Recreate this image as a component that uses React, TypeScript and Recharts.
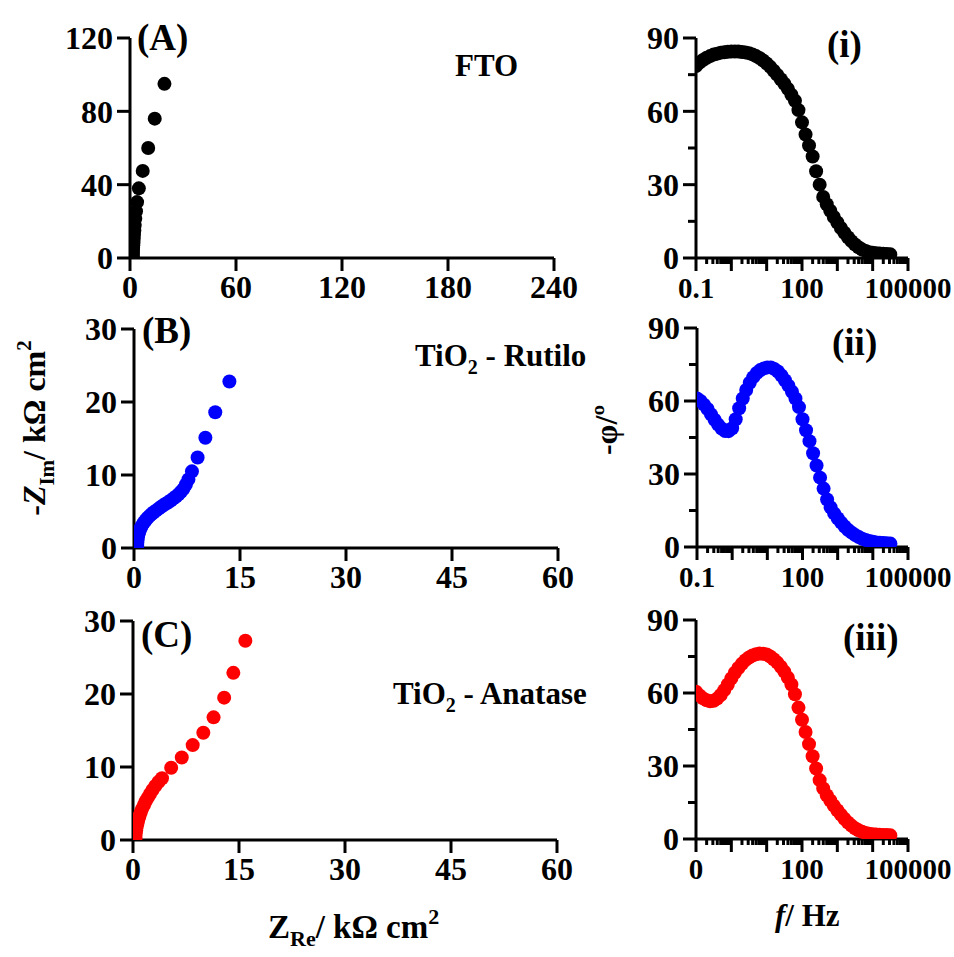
import React from 'react';
import { ScatterChart, Scatter, XAxis, YAxis } from 'recharts';

const FONT = "'Liberation Serif', 'Times New Roman', serif";

// ---- Nyquist data (kΩ cm²) ----
const ftoZre = [19.5, 14.0, 10.3, 7.2, 5.0, 4.0, 3.4, 3.0, 2.7, 2.45, 2.25, 2.1, 1.95, 1.85, 1.75, 1.65, 1.58, 1.52, 1.47, 1.43, 1.4, 1.37, 1.35, 1.33];
const ftoZim = [95, 76, 60, 47.5, 38, 30.5, 25.5, 21.5, 18, 15, 12.5, 10.3, 8.5, 7, 5.7, 4.6, 3.6, 2.8, 2.1, 1.5, 1.0, 0.6, 0.3, 0.1];

const rutiloZre = [13.5, 11.5, 10.1, 9.0, 8.2, 7.7, 7.35, 7.0, 6.65, 6.3, 5.95, 5.6, 5.25, 4.9, 4.55, 4.2, 3.85, 3.5, 3.15, 2.8, 2.5, 2.2, 1.9, 1.65, 1.4, 1.2, 1.0, 0.85, 0.72, 0.62, 0.55, 0.5, 0.47, 0.45, 0.45];
const rutiloZim = [22.8, 18.6, 15.1, 12.4, 10.5, 9.4, 8.7, 8.1, 7.7, 7.35, 7.05, 6.8, 6.55, 6.3, 6.1, 5.9, 5.65, 5.4, 5.15, 4.9, 4.65, 4.4, 4.1, 3.8, 3.5, 3.2, 2.85, 2.5, 2.15, 1.8, 1.45, 1.1, 0.75, 0.4, 0.1];

const anataseZre = [15.9, 14.2, 12.9, 11.4, 9.95, 8.45, 6.9, 5.4, 4.1, 3.6, 3.15, 2.75, 2.4, 2.1, 1.8, 1.55, 1.3, 1.1, 0.92, 0.77, 0.64, 0.53, 0.45, 0.38, 0.34, 0.33];
const anataseZim = [27.3, 22.9, 19.5, 16.8, 14.7, 13.0, 11.3, 9.9, 8.45, 7.95, 7.4, 6.85, 6.3, 5.8, 5.3, 4.8, 4.3, 3.8, 3.3, 2.8, 2.3, 1.8, 1.3, 0.85, 0.4, 0.1];

// ---- Bode phase data (10 points per decade, 0.1 Hz – 31.6 kHz) ----
const freqHz = [
  0.1, 0.126, 0.158, 0.2, 0.251, 0.316, 0.398, 0.501, 0.631, 0.794,
  1, 1.26, 1.58, 2, 2.51, 3.16, 3.98, 5.01, 6.31, 7.94,
  10, 12.6, 15.8, 20, 25.1, 31.6, 39.8, 50.1, 63.1, 79.4,
  100, 126, 158, 200, 251, 316, 398, 501, 631, 794,
  1000, 1260, 1580, 2000, 2510, 3160, 3980, 5010, 6310, 7940,
  10000, 12600, 15800, 20000, 25100, 31600,
];
const phaseFTO = [
  78.5, 80, 81, 81.9, 82.6, 83.2, 83.6, 84.0, 84.2, 84.4,
  84.5, 84.5, 84.5, 84.3, 84.1, 83.8, 83.3, 82.6, 81.8, 80.8,
  79.6, 78.2, 76.6, 74.9, 73.1, 71.3, 69.2, 66.8, 64.3, 60.5,
  55.5, 50.5, 46, 41.5, 35.5, 30, 25, 22, 19.3, 16.8,
  14.5, 12.3, 10.3, 8.5, 6.9, 5.5, 4.4, 3.5, 2.9, 2.4,
  2.1, 1.9, 1.8, 1.7, 1.6, 1.5,
];
const phaseRutilo = [
  61, 60, 58.5, 56.7, 54.5, 52.3, 50.3, 48.7, 47.7, 47.6,
  48.8, 52.5, 57, 61, 64.5, 67.5, 69.8, 71.5, 72.7, 73.4,
  73.8, 73.8, 73.2, 72.1, 70.5, 68.5, 66.3, 63.8, 61, 57.5,
  52.5, 48, 43.5, 38.5, 33.5, 28.5, 24, 19.5, 16.3, 13.8,
  11.8, 10, 8.4, 7, 5.9, 4.9, 4.1, 3.4, 2.9, 2.5,
  2.2, 1.9, 1.7, 1.6, 1.5, 1.4,
];
const phaseAnatase = [
  60.5, 59, 57.8, 57, 56.6, 56.8, 57.7, 59.2, 61.2, 63.5,
  66, 68.3, 70.3, 72, 73.5, 74.6, 75.4, 75.9, 76.2, 76.1,
  75.8, 75, 73.9, 72.5, 70.8, 68.8, 66.3, 63.5, 59.5, 54,
  49, 44, 39, 34, 29, 24.2, 20.8, 18, 15.8, 13.7,
  11.8, 10, 8.3, 6.8, 5.5, 4.4, 3.6, 3.0, 2.5, 2.2,
  2.0, 1.8, 1.7, 1.6, 1.6, 1.5,
];

// ---- Axis ticks ----
const ticksXA = [0, 60, 120, 180, 240];
const ticksYA = [0, 40, 80, 120];
const ticksXBC = [0, 15, 30, 45, 60];
const ticksYBC = [0, 10, 20, 30];
const phaseTicks = [0, 15, 30, 45, 60, 75, 90];
const phaseLabels = [0, 30, 60, 90];
const freqDecades = [0.1, 1, 10, 100, 1000, 10000, 100000];
const freqLabels = [0.1, 100, 100000];

const freqTicks: number[] = [];
freqDecades.forEach((d, i) => {
  freqTicks.push(d);
  if (i < freqDecades.length - 1) for (let m = 2; m <= 9; m++) freqTicks.push(+(d * m).toPrecision(6));
});

const zip = (xs: number[], ys: number[]) => xs.map((x, i) => ({ x, y: ys[i] }));

const TICK_FS = 32;
const LOG_TICK_FS = 29;

function makeXTick(labels: number[] | null, decades: number[] | null, fs: number, fmt?: (v: number) => string) {
  return (props: any) => {
    const { x, y, payload } = props;
    const v = payload.value;
    const isMajor = decades ? decades.includes(v) : true;
    const showLabel = labels ? labels.includes(v) : true;
    const len = isMajor ? 13 : 6;
    return (
      <g>
        <line x1={x} x2={x} y1={y} y2={y + len} stroke="#000" strokeWidth={3} />
        {showLabel && (
          <text x={x} y={y + 40} textAnchor="middle" fontFamily={FONT} fontWeight="bold" fontSize={fs} fill="#000">
            {fmt ? fmt(v) : String(v)}
          </text>
        )}
      </g>
    );
  };
}

function makeYTick(labels: number[] | null) {
  return (props: any) => {
    const { x, y, payload } = props;
    const v = payload.value;
    const showLabel = labels ? labels.includes(v) : true;
    const len = showLabel ? 13 : 8;
    return (
      <g>
        <line x1={x} x2={x - len} y1={y} y2={y} stroke="#000" strokeWidth={3} />
        {showLabel && (
          <text x={x - 17} y={y} dy="0.35em" textAnchor="end" fontFamily={FONT} fontWeight="bold" fontSize={TICK_FS} fill="#000">
            {String(v)}
          </text>
        )}
      </g>
    );
  };
}

type PanelProps = {
  left: number; top: number; w: number; h: number;
  data: { x: number; y: number }[];
  color: string;
  xDomain: [number, number];
  xTicks: number[];
  yDomain: [number, number];
  yTicks: number[];
  yLabels?: number[];
  log?: boolean;
  mr?: number;
  xFmt?: (v: number) => string;
};

function Panel(p: PanelProps) {
  const YW = 80, XH = 60, MT = 20;
  const MR = p.mr ?? 30;
  const dot = (props: any) => <circle cx={props.cx} cy={props.cy} r={7} fill={p.color} />;
  return (
    <div style={{ position: 'absolute', left: p.left - YW, top: p.top - MT }}>
      <ScatterChart width={p.w + YW + MR} height={p.h + MT + XH} margin={{ top: MT, right: MR, bottom: 0, left: 0 }}>
        <XAxis
          type="number"
          dataKey="x"
          scale={p.log ? 'log' : 'linear'}
          domain={p.xDomain}
          ticks={p.xTicks}
          interval={0}
          allowDataOverflow
          height={XH}
          tickSize={0}
          tickMargin={0}
          tickLine={false}
          axisLine={{ stroke: '#000', strokeWidth: 3 }}
          tick={makeXTick(p.log ? freqLabels : null, p.log ? freqDecades : null, p.log ? LOG_TICK_FS : TICK_FS, p.xFmt)}
        />
        <YAxis
          type="number"
          dataKey="y"
          domain={p.yDomain}
          ticks={p.yTicks}
          interval={0}
          allowDataOverflow
          width={YW}
          tickSize={0}
          tickMargin={0}
          tickLine={false}
          axisLine={{ stroke: '#000', strokeWidth: 3 }}
          tick={makeYTick(p.yLabels || null)}
        />
        <Scatter data={p.data} fill={p.color} shape={dot} isAnimationActive={false} />
      </ScatterChart>
    </div>
  );
}

const T = (props: any) => (
  <text fontFamily={FONT} fontWeight="bold" fill="#000" {...props} />
);

export default function App() {
  const bode = (ph: number[]) => zip(freqHz, ph);
  return (
    <div style={{ position: 'absolute', left: 0, top: 0, width: 954, height: 957, background: '#fff', overflow: 'hidden' }}>
      <style>{`svg.recharts-surface{overflow:visible}`}</style>
      <Panel left={130} top={38} w={424} h={220} data={zip(ftoZre, ftoZim)} color="#000000" xDomain={[0, 240]} xTicks={ticksXA} yDomain={[0, 120]} yTicks={ticksYA} />
      <Panel left={134} top={329} w={424} h={219} data={zip(rutiloZre, rutiloZim)} color="#0000ff" xDomain={[0, 60]} xTicks={ticksXBC} yDomain={[0, 30]} yTicks={ticksYBC} />
      <Panel left={133} top={621} w={424} h={219} data={zip(anataseZre, anataseZim)} color="#ff0000" xDomain={[0, 60]} xTicks={ticksXBC} yDomain={[0, 30]} yTicks={ticksYBC} />
      <Panel left={696} top={38} w={212} h={220} mr={46} data={bode(phaseFTO)} color="#000000" xDomain={[0.1, 100000]} xTicks={freqTicks} yDomain={[0, 90]} yTicks={phaseTicks} yLabels={phaseLabels} log />
      <Panel left={697} top={328} w={211} h={219} mr={46} data={bode(phaseRutilo)} color="#0000ff" xDomain={[0.1, 100000]} xTicks={freqTicks} yDomain={[0, 90]} yTicks={phaseTicks} yLabels={phaseLabels} log />
      <Panel left={696} top={620} w={212} h={219} mr={46} data={bode(phaseAnatase)} color="#ff0000" xDomain={[0.1, 100000]} xTicks={freqTicks} yDomain={[0, 90]} yTicks={phaseTicks} yLabels={phaseLabels} log xFmt={(v) => (v === 0.1 ? '0' : String(v))} />

      <svg width={954} height={957} style={{ position: 'absolute', left: 0, top: 0, pointerEvents: 'none' }}>
        <T x={137} y={50} fontSize={37}>(A)</T>
        <T x={142} y={343} fontSize={37}>(B)</T>
        <T x={141} y={647} fontSize={37}>(C)</T>
        <T x={827} y={57} fontSize={37}>(i)</T>
        <T x={832} y={355} fontSize={37}>(ii)</T>
        <T x={843} y={650} fontSize={37}>(iii)</T>

        <T x={455} y={76} fontSize={31}>FTO</T>
        <T x={415} y={366} fontSize={31}>
          TiO<tspan dy={8} fontSize={20}>2</tspan><tspan dy={-8}> - Rutilo</tspan>
        </T>
        <T x={393} y={704} fontSize={31}>
          TiO<tspan dy={8} fontSize={20}>2</tspan><tspan dy={-8}> - Anatase</tspan>
        </T>

        <T transform="translate(45,428) rotate(-90)" textAnchor="middle" fontSize={32}>
          -<tspan fontStyle="italic">Z</tspan><tspan dy={9} fontSize={21}>Im</tspan><tspan dy={-9}>/ kΩ cm</tspan><tspan dy={-14} fontSize={21}>2</tspan>
        </T>
        <T transform="translate(617,430) rotate(-90)" textAnchor="middle" fontSize={32}>
          -φ/º
        </T>
        <T x={268} y={938} fontSize={33}>
          Z<tspan dy={8} fontSize={22}>Re</tspan><tspan dy={-8}>/ kΩ cm</tspan><tspan dy={-14} fontSize={22}>2</tspan>
        </T>
        <T x={775} y={926} fontSize={31}>
          <tspan fontStyle="italic">f</tspan>/ Hz
        </T>
      </svg>
    </div>
  );
}
